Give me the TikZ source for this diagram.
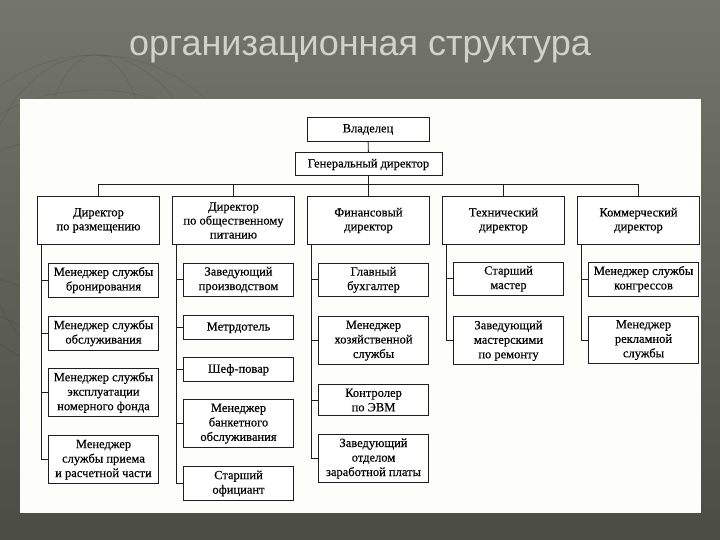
\documentclass[tikz,border=0pt]{standalone}
\usepackage{fontspec}
\setmainfont[FakeBold=0.4]{Liberation Serif}
\newfontfamily\titlefont{Liberation Sans}
\usepackage{tikz}
\usetikzlibrary{positioning}
\definecolor{SlideTop}{HTML}{74766B}
\definecolor{SlideBot}{HTML}{4B4D44}
\definecolor{TitleGrey}{HTML}{D2D3C7}
\definecolor{PaperWhite}{HTML}{FDFDF9}
\definecolor{InkBlack}{HTML}{1E1E1E}
\tikzset{
  % Top boxes: owner, general director
  topbox/.style={
    rectangle, draw=InkBlack, line width=1pt, fill=white,
    minimum width=#1, minimum height=24pt, inner sep=3pt,
    align=center, font=\fontsize{12.5}{14.5}\selectfont
  },
  % Director heads of the five columns
  head/.style={
    rectangle, draw=InkBlack, line width=1pt, fill=white,
    minimum width=122pt, minimum height=47pt, inner sep=3pt,
    align=center, font=\fontsize{12.5}{14}\selectfont
  },
  % Subordinate boxes
  kid/.style={
    rectangle, draw=InkBlack, line width=1pt, fill=white,
    minimum width=110pt, minimum height=24pt, inner sep=4pt,
    align=center, font=\fontsize{12.5}{14.5}\selectfont
  },
  % Connector
  link/.style={draw=InkBlack, line width=0.9pt},
  % Faint globe on the slide
  globe/.style={draw=black, opacity=0.08, line width=0.8pt}
}
\begin{document}
\begin{tikzpicture}[x=1pt, y=-1pt]

  % Slide background
  \fill[top color=SlideTop, bottom color=SlideBot] (0,0) rectangle (720,540);
  \useasboundingbox (0,0) rectangle (720,540);
  \begin{scope}
    \clip (0,0) rectangle (720,540);
    \draw[globe] (95,215) circle (160);
    \draw[globe] (95,215) ellipse (160 and 125);
    \draw[globe] (95,215) ellipse (160 and 80);
    \draw[globe] (95,215) ellipse (115 and 160);
    \draw[globe] (95,215) ellipse (60 and 160);
  \end{scope}

  % Title
  \node[anchor=base, text=TitleGrey, font=\titlefont\fontsize{36}{42}\selectfont]
    (title) at (360,56) {организационная структура};

  % Scanned page
  \fill[PaperWhite] (20,99) rectangle (701,513);

  % Owner and general director
  \node[topbox=122pt] (own) at (368,129.5) {Владелец};
  \node[topbox=147pt, minimum height=23pt] (gen) at (368.5,164.5) {Генеральный директор};

  % Directors
  \node[head] (d3) at (368.5,220.5) {Финансовый\\директор};
  \node[head, left=12pt of d3]  (d2) {Директор\\по общественному\\питанию};
  \node[head, left=12pt of d2]  (d1) {Директор\\по размещению};
  \node[head, right=12pt of d3] (d4) {Технический\\директор};
  \node[head, right=12pt of d4] (d5) {Коммерческий\\директор};

  % Accommodation
  \node[kid, below=18pt of d1, xshift=5pt] (a1) {Менеджер службы\\бронирования};
  \node[kid, below=18pt of a1] (a2) {Менеджер службы\\обслуживания};
  \node[kid, below=17pt of a2] (a3) {Менеджер службы\\эксплуатации\\номерного фонда};
  \node[kid, below=18pt of a3] (a4) {Менеджер\\службы приема\\и расчетной части};

  % Catering
  \node[kid, below=18pt of d2, xshift=5pt] (b1) {Заведующий\\производством};
  \node[kid, below=18pt of b1] (b2) {Метрдотель};
  \node[kid, below=17pt of b2] (b3) {Шеф-повар};
  \node[kid, below=17pt of b3] (b4) {Менеджер\\банкетного\\обслуживания};
  \node[kid, below=18pt of b4] (b5) {Старший\\официант};

  % Finance
  \node[kid, below=18pt of d3, xshift=5pt] (c1) {Главный\\бухгалтер};
  \node[kid, below=19pt of c1] (c2) {Менеджер\\хозяйственной\\службы};
  \node[kid, below=19pt of c2] (c3) {Контролер\\по ЭВМ};
  \node[kid, below=18pt of c3] (c4) {Заведующий\\отделом\\заработной платы};

  % Technical
  \node[kid, below=17pt of d4, xshift=5pt] (t1) {Старший\\мастер};
  \node[kid, below=20pt of t1] (t2) {Заведующий\\мастерскими\\по ремонту};

  % Commercial
  \node[kid, below=17pt of d5, xshift=5pt] (k1) {Менеджер службы\\конгрессов};
  \node[kid, below=19pt of k1] (k2) {Менеджер\\рекламной\\службы};

  % Top connectors
  \draw[link] (own) -- (gen);
  \draw[link] (gen) -- (d3);
  \draw[link] (d1.north) -- ++(0,-12) -| (d5.north);
  \draw[link] (d2.north) -- ++(0,-12);
  \draw[link] (d4.north) -- ++(0,-12);

  % Column spines
  \draw[link] ([xshift=4pt]d1.south west) |- (a4.west);
  \foreach \k in {1,2,3}
    \draw[link] (a\k.west) -- ([xshift=4pt]d1.south west |- a\k.west);
  \draw[link] ([xshift=4pt]d2.south west) |- (b5.west);
  \foreach \k in {1,2,3,4}
    \draw[link] (b\k.west) -- ([xshift=4pt]d2.south west |- b\k.west);
  \draw[link] ([xshift=4pt]d3.south west) |- (c4.west);
  \foreach \k in {1,2,3}
    \draw[link] (c\k.west) -- ([xshift=4pt]d3.south west |- c\k.west);
  \draw[link] ([xshift=4pt]d4.south west) |- (t2.west);
  \draw[link] (t1.west) -- ([xshift=4pt]d4.south west |- t1.west);
  \draw[link] ([xshift=4pt]d5.south west) |- (k2.west);
  \draw[link] (k1.west) -- ([xshift=4pt]d5.south west |- k1.west);

\end{tikzpicture}
\end{document}
